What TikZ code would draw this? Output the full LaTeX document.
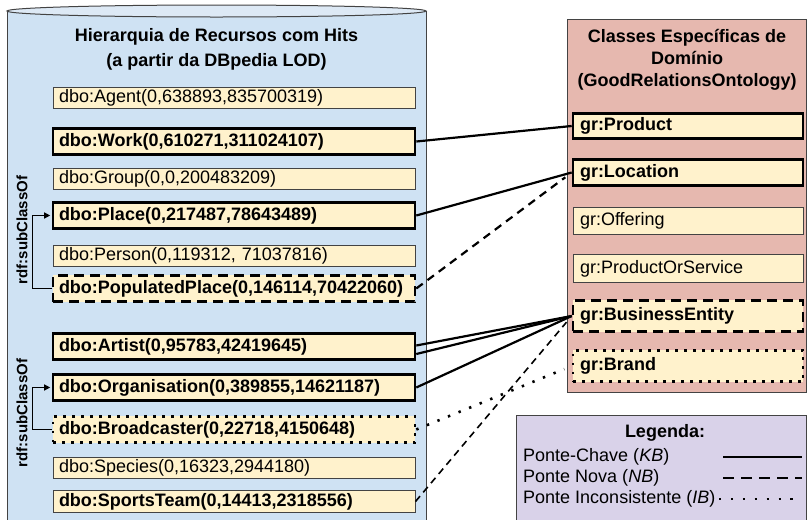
\documentclass[tikz,border=0pt]{standalone}
\usepackage{fontspec}
\setmainfont{Liberation Sans}
\usetikzlibrary{arrows.meta}
\definecolor{cylblue}{HTML}{CFE2F3}
\definecolor{cyltop}{HTML}{DDE9F5}
\definecolor{boxfill}{HTML}{FFF2CC}
\definecolor{grpink}{HTML}{E6B8AF}
\definecolor{legpurple}{HTML}{D9D2E9}
\definecolor{edge}{HTML}{434343}

\begin{document}
\begin{tikzpicture}[x=1pt,y=-1pt,
  txt/.style={font=\fontsize{18}{21}\selectfont},
  bold/.style={font=\fontsize{18}{21}\selectfont\bfseries},
  cls/.style={txt, draw=edge, line width=1pt, fill=boxfill, inner xsep=6pt,
    inner ysep=0pt, text width=350pt, align=left, minimum height=21pt},
  grcls/.style={cls, text width=216pt, inner xsep=7pt},
  strong/.style={bold, draw=black, line width=2.6pt, minimum height=26.5pt},
  newbox/.style={strong, dash pattern=on 10pt off 6pt},
  incbox/.style={strong, dash pattern=on 2.6pt off 6.4pt},
  kb/.style={draw=black, line width=2.2pt},
  nb/.style={draw=black, line width=2.2pt, dash pattern=on 8pt off 6pt},
  nbthin/.style={draw=black, line width=1.6pt, dash pattern=on 7pt off 5pt},
  ib/.style={draw=black, line width=2.6pt, dash pattern=on 2.4pt off 9pt},
  sub/.style={draw=black, line width=1.3pt, shorten >=1.5pt,
    -{Triangle[length=6pt,width=6pt]}},
  sublabel/.style={font=\fontsize{15}{18}\selectfont\bfseries, rotate=90}
]
\useasboundingbox (0,0) rectangle (807,520);
\clip (0,0) rectangle (807,520);

% DBpedia cylinder
\path[draw=edge, line width=1pt, fill=cylblue] (7,11) -- (7,530) -- (426,530) -- (426,11);
\path[draw=edge, line width=1pt, fill=cyltop] (216.5,11) ellipse [x radius=209.5pt, y radius=6pt];

% GoodRelations container and legend panel
\path[draw=edge, line width=1pt, fill=grpink] (567,19) rectangle (806,392);
\path[draw=edge, line width=1pt, fill=legpurple] (516,415) rectangle (806,530);

% titles
\node[bold, align=center, font=\fontsize{18}{25}\selectfont\bfseries] (ltitle) at (216.5,49.5)
  {Hierarquia de Recursos com Hits\\(a partir da DBpedia LOD)};
\node[bold, align=center, font=\fontsize{18}{22}\selectfont\bfseries] (rtitle) at (687,60)
  {Classes Específicas de\\Domínio\\(GoodRelationsOntology)};

% DBpedia resources
\node[cls] (agent) at (234,98) {dbo:Agent(0,638893,835700319)};
\node[cls, strong] (work) at (234,141.5) {dbo:Work(0,610271,311024107)};
\node[cls] (group) at (234,178.5) {dbo:Group(0,0,200483209)};
\node[cls, strong] (place) at (234,215.5) {dbo:Place(0,217487,78643489)};
\node[cls] (person) at (234,256) {dbo:Person(0,119312, 71037816)};
\node[cls, newbox] (popplace) at (234,288.5) {dbo:PopulatedPlace(0,146114,70422060)};
\node[cls, strong] (artist) at (234,346.5) {dbo:Artist(0,95783,42419645)};
\node[cls, strong] (org) at (234,387.5) {dbo:Organisation(0,389855,14621187)};
\node[cls, incbox] (broad) at (234,429.5) {dbo:Broadcaster(0,22718,4150648)};
\node[cls] (species) at (234,467.5) {dbo:Species(0,16323,2944180)};
\node[cls, bold, minimum height=22pt] (sports) at (234,501.5) {dbo:SportsTeam(0,14413,2318556)};

% GoodRelations classes
\node[grcls, strong, minimum height=25.5pt] (product) at (688,126) {gr:Product};
\node[grcls, strong] (location) at (688,172.5) {gr:Location};
\node[grcls, minimum height=27pt] (offering) at (688,221) {gr:Offering};
\node[grcls, minimum height=28pt] (pos) at (688,268.5) {gr:ProductOrService};
\node[grcls, newbox, minimum height=31.5pt] (busent) at (688,316) {gr:BusinessEntity};
\node[grcls, incbox, minimum height=31.5pt] (brand) at (688,366) {gr:Brand};

% rdf:subClassOf relations
\node[sublabel] (sub1) at (22,230) {rdf:subClassOf};
\node[sublabel] (sub2) at (22,413) {rdf:subClassOf};
\draw[sub] (popplace.west) -- ++(-19,0) |- (place.west);
\draw[sub] (broad.west) -- ++(-19,0) |- (org.west);

% bridges
\draw[kb] (work.east) -- (product.west);
\draw[kb] (place.east) -- (location.west);
\draw[nb, shorten >=8pt] (popplace.east) -- (location.west);
\draw[kb] ([yshift=1pt]artist.east) -- (busent.west);
\draw[kb] ([yshift=-7.5pt]artist.east) -- (busent.west);
\draw[kb] (org.east) -- (busent.west);
\draw[ib, shorten >=8pt] (broad.east) -- (brand.west);
\draw[nbthin, shorten >=8pt] (sports.east) -- (busent.west);

% legend
\node[bold] (legtitle) at (665,433) {Legenda:};
\node[txt, anchor=west, inner sep=0pt] (lkb) at (523,457) {Ponte-Chave (\textit{KB})};
\node[txt, anchor=west, inner sep=0pt] (lnb) at (523,478) {Ponte Nova (\textit{NB})};
\node[txt, anchor=west, inner sep=0pt] (lib) at (523,499) {Ponte Inconsistente (\textit{IB})};
\coordinate (kbA) at (723,457);
\coordinate (kbB) at (802,457);
\coordinate (nbA) at (723,478);
\coordinate (nbB) at (802,478);
\coordinate (ibA) at (719,499);
\coordinate (ibB) at (802,499);
\draw[kb] (kbA) -- (kbB);
\draw[draw=black, line width=2.6pt, dash pattern=on 11pt off 7pt] (nbA) -- (nbB);
\draw[draw=black, line width=2.6pt, dash pattern=on 2.4pt off 9.5pt] (ibA) -- (ibB);
\end{tikzpicture}
\end{document}
